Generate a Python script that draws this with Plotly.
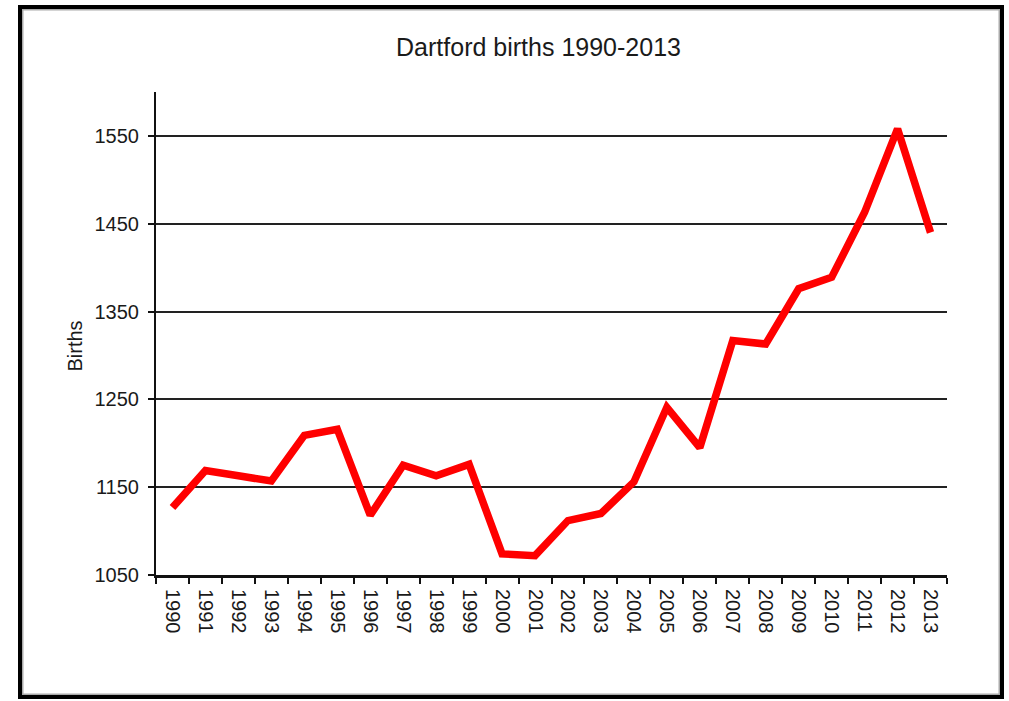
import plotly.graph_objects as go

years = [str(y) for y in range(1990, 2014)]
births = [1127, 1169, 1163, 1157, 1209, 1216, 1118, 1175, 1163, 1176,
          1074, 1072, 1112, 1120, 1156, 1241, 1195, 1317, 1313, 1376,
          1389, 1463, 1558, 1440]
y_ticks = [1050, 1150, 1250, 1350, 1450, 1550]

FONT = "Liberation Sans"
TXT = "#1a1a1a"

fig = go.Figure()
fig.add_trace(go.Scatter(
    x=years, y=births, mode="lines",
    line=dict(color="#ff0000", width=7.5),
    hoverinfo="x+y", showlegend=False,
))

W, H = 1009, 701
L, R, T, B = 156, 62, 92, 126
pw, ph = W - L - R, H - T - B

def px(xp):
    return (xp - L) / pw

def py(yp):
    return (H - B - yp) / ph

fig.update_layout(
    width=W, height=H,
    margin=dict(l=L, r=R, t=T, b=B),
    paper_bgcolor="white", plot_bgcolor="white",
    font=dict(family=FONT, color=TXT),
    title=dict(text="Dartford births 1990-2013", x=px(538.5), xref="paper",
               xanchor="center", y=1 - 47 / H, yanchor="middle",
               font=dict(size=25, family=FONT, color=TXT)),
    xaxis=dict(
        type="category", range=[-0.5, len(years) - 0.5],
        tickangle=90, tickson="boundaries", ticks="outside", ticklen=6,
        tickwidth=2, tickcolor="#111", ticklabelstandoff=7,
        showline=True, linecolor="#111", linewidth=3,
        showgrid=False, tickfont=dict(size=20, family=FONT, color=TXT),
    ),
    yaxis=dict(
        range=[1050, 1600], tickvals=y_ticks,
        ticks="outside", ticklen=6, tickwidth=2, tickcolor="#111",
        ticklabelstandoff=5,
        showline=True, linecolor="#111", linewidth=2,
        showgrid=True, gridcolor="#222", gridwidth=2,
        zeroline=False, tickfont=dict(size=20, family=FONT, color=TXT),
    ),
    annotations=[dict(text="Births", x=px(61.5), y=py(346), xref="paper",
                      yref="paper", showarrow=False, textangle=-90,
                      font=dict(size=20, family=FONT, color=TXT))],
    shapes=[
        dict(type="rect", xref="paper", yref="paper",
             x0=px(22.5), x1=px(999.5), y0=py(694.5), y1=py(9.5),
             line=dict(color="#aaaaaa", width=2), layer="below"),
        dict(type="rect", xref="paper", yref="paper",
             x0=px(20), x1=px(1002), y0=py(697), y1=py(7),
             line=dict(color="#000000", width=4), layer="above"),
    ],
)

fig.write_html(
    "out.html",
    config={"displayModeBar": False},
    post_script="document.body.style.margin='0';document.body.style.overflow='hidden';",
)
